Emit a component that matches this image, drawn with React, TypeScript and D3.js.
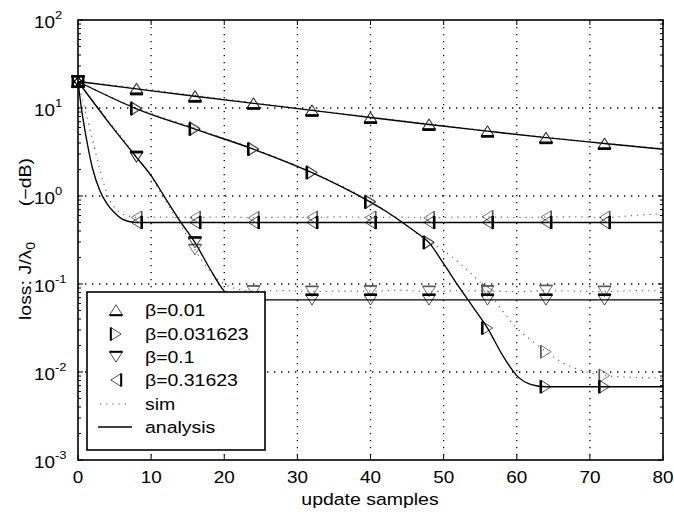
import React from "react";
import * as d3 from "d3";

const W = 674;
const H = 517;

// Axis ticks
const xTicks = [0, 10, 20, 30, 40, 50, 60, 70, 80];
const yExponents = [-3, -2, -1, 0, 1, 2];
const markerT = [0, 8, 16, 24, 32, 40, 48, 56, 64, 72];

const betaLabels = ["β=0.01", "β=0.031623", "β=0.1", "β=0.31623"];
const markerDirs = ["up", "right", "down", "left"];

// β = 0.01
const anaT1 = [0, 8, 16, 24, 32, 40, 48, 56, 64, 72, 80];
const anaV1 = [20, 16.5, 13.6, 11.3, 9.4, 7.8, 6.5, 5.45, 4.6, 3.95, 3.4];
const simT1 = [0, 8, 16, 24, 32, 40, 48, 56, 64, 72, 80];
const simV1 = [20, 16.9, 13.9, 11.5, 9.5, 7.9, 6.6, 5.5, 4.65, 4.0, 3.45];

// β = 0.031623
const anaT2 = [0, 8, 16, 24, 32, 40, 42, 44, 46, 48, 50, 52, 54, 56, 58, 60, 62, 64, 72, 80];
const anaV2 = [20, 9.8, 5.75, 3.4, 1.84, 0.85, 0.68, 0.525, 0.4, 0.295, 0.17, 0.095, 0.055, 0.0316, 0.0158, 0.0091, 0.0072, 0.0068, 0.0068, 0.0068];
const simT2 = [0, 8, 16, 24, 32, 40, 44, 48, 50, 52, 54, 56, 58, 60, 62, 64, 66, 68, 70, 72, 76, 80];
const simV2 = [20, 10, 5.9, 3.45, 1.86, 0.87, 0.525, 0.3, 0.24, 0.178, 0.126, 0.085, 0.05, 0.0316, 0.0229, 0.017, 0.0132, 0.011, 0.0098, 0.0091, 0.0087, 0.0085];

// β = 0.1
const anaT3 = [0, 4, 8, 10, 12, 14, 16, 18, 20, 21, 22, 24, 32, 40, 48, 56, 64, 72, 80];
const anaV3 = [20, 7.2, 2.75, 1.7, 0.93, 0.51, 0.295, 0.151, 0.083, 0.071, 0.066, 0.066, 0.066, 0.066, 0.066, 0.066, 0.066, 0.066, 0.066];
const simT3 = [0, 4, 8, 10, 12, 14, 16, 18, 20, 22, 24, 28, 32, 36, 40, 44, 48, 52, 56, 60, 64, 68, 72, 76, 80];
const simV3 = [20, 7.4, 2.8, 1.66, 0.87, 0.47, 0.245, 0.141, 0.1, 0.087, 0.083, 0.084, 0.082, 0.083, 0.083, 0.085, 0.082, 0.084, 0.083, 0.082, 0.084, 0.083, 0.082, 0.084, 0.083];

// β = 0.31623
const anaT4 = [0, 0.5, 1, 1.5, 2, 3, 4, 5, 6, 7, 8, 16, 24, 32, 40, 48, 56, 64, 72, 80];
const anaV4 = [20, 9.5, 5.25, 3.16, 2.04, 1.15, 0.81, 0.645, 0.55, 0.513, 0.5, 0.5, 0.5, 0.5, 0.5, 0.5, 0.5, 0.5, 0.5, 0.5];
const simT4 = [0, 1, 2, 3, 4, 5, 6, 7, 8, 12, 16, 20, 24, 28, 32, 36, 40, 44, 48, 52, 56, 60, 64, 68, 72, 76, 80];
const simV4 = [20, 9.3, 4.3, 2.0, 1.05, 0.74, 0.63, 0.59, 0.57, 0.575, 0.57, 0.58, 0.565, 0.575, 0.57, 0.58, 0.57, 0.575, 0.565, 0.575, 0.58, 0.57, 0.575, 0.58, 0.57, 0.6, 0.63];

const anaT = [anaT1, anaT2, anaT3, anaT4];
const anaV = [anaV1, anaV2, anaV3, anaV4];
const simT = [simT1, simT2, simT3, simT4];
const simV = [simV1, simV2, simV3, simV4];

const FONT = "'Liberation Sans', Arial, Helvetica, sans-serif";
const SX = 1.18;

const M = { left: 78, right: 663, top: 20, bottom: 460 };
const x = d3.scaleLinear().domain([0, 80]).range([M.left, M.right]);
const y = d3.scaleLog().domain([1e-3, 1e2]).range([M.bottom, M.top]);

const line = d3
  .line<[number, number]>()
  .x((d) => x(d[0]))
  .y((d) => y(d[1]))
  .curve(d3.curveMonotoneX);

function T(props: {
  x: number;
  y: number;
  anchor?: string;
  size?: number;
  rotate?: number;
  children: React.ReactNode;
}) {
  const { anchor = "start", size = 16.5, rotate, children } = props;
  const tf = `translate(${props.x},${props.y})${rotate ? ` rotate(${rotate})` : ""} scale(${SX},1)`;
  return (
    <text transform={tf} textAnchor={anchor} fontSize={size} fontFamily={FONT} fill="#000">
      {children}
    </text>
  );
}

// Triangle marker: thin outline with a heavier flat side
function Tri(props: {
  cx: number;
  cy: number;
  dir: string;
  color: string;
  flatW: number;
  thinW: number;
}) {
  const { cx, cy, dir, color, flatW, thinW } = props;
  const w = 6.5;
  const h = 5.2;
  let apex: [number, number];
  let b1: [number, number];
  let b2: [number, number];
  if (dir === "up") {
    apex = [0, -h];
    b1 = [-w, h];
    b2 = [w, h];
  } else if (dir === "down") {
    apex = [0, h];
    b1 = [-w, -h];
    b2 = [w, -h];
  } else if (dir === "right") {
    apex = [h, 0];
    b1 = [-h, -w];
    b2 = [-h, w];
  } else {
    apex = [-h, 0];
    b1 = [h, -w];
    b2 = [h, w];
  }
  const p = (q: [number, number]) => `${cx + q[0]},${cy + q[1]}`;
  return (
    <g>
      <polygon points={`${p(apex)} ${p(b1)} ${p(b2)}`} fill="none" stroke={color} strokeWidth={thinW} />
      <line
        x1={cx + b1[0]}
        y1={cy + b1[1]}
        x2={cx + b2[0]}
        y2={cy + b2[1]}
        stroke={color}
        strokeWidth={flatW}
      />
    </g>
  );
}

function valueAt(ts: number[], vs: number[], t: number) {
  const i = ts.indexOf(t);
  return vs[i];
}

export default function App() {
  const minorTicks: number[] = [];
  for (let e = -3; e < 2; e++) {
    for (let k = 2; k <= 9; k++) minorTicks.push(k * Math.pow(10, e));
  }
  const gridX = xTicks.filter((t) => t > 0 && t < 80);
  const gridY = yExponents.filter((e) => e > -3 && e < 2).map((e) => Math.pow(10, e));

  const legendRows = [310, 334, 357, 380, 404, 427];

  return (
    <svg width={W} height={H} viewBox={`0 0 ${W} ${H}`} style={{ display: "block", position: "absolute", left: 0, top: 0, background: "#fff" }}>
      <rect x={0} y={0} width={W} height={H} fill="#fff" />
      {/* grid */}
      <g stroke="#000" strokeWidth={1.3} strokeDasharray="1.3 5.7">
        {gridX.map((t) => (
          <line key={"gx" + t} x1={x(t)} x2={x(t)} y1={M.top} y2={M.bottom} />
        ))}
        {gridY.map((v) => (
          <line key={"gy" + v} x1={M.left} x2={M.right} y1={y(v)} y2={y(v)} />
        ))}
      </g>

      {/* simulation curves */}
      <g fill="none" stroke="#555" strokeWidth={1.1} strokeDasharray="1.2 5">
        {simT.map((ts, i) => (
          <path key={"sim" + i} d={line(ts.map((t, j) => [t, simV[i][j]] as [number, number])) || ""} />
        ))}
      </g>

      {/* analysis curves */}
      <g fill="none" stroke="#000" strokeWidth={1.35}>
        {anaT.map((ts, i) => (
          <path key={"ana" + i} d={line(ts.map((t, j) => [t, anaV[i][j]] as [number, number])) || ""} />
        ))}
      </g>

      {/* markers */}
      {simT.map((ts, i) =>
        markerT.map((t) => (
          <Tri key={`sm${i}-${t}`} cx={x(t)} cy={y(valueAt(ts, simV[i], t))} dir={markerDirs[i]} color="#555" flatW={1.6} thinW={0.8} />
        ))
      )}
      {anaT.map((ts, i) =>
        markerT.map((t) => (
          <Tri key={`am${i}-${t}`} cx={x(t)} cy={y(valueAt(ts, anaV[i], t))} dir={markerDirs[i]} color="#000" flatW={2.6} thinW={0.7} />
        ))
      )}

      {/* ticks */}
      <g stroke="#000" strokeWidth={1}>
        {xTicks.map((t) => (
          <g key={"xt" + t}>
            <line x1={x(t)} x2={x(t)} y1={M.bottom} y2={M.bottom - 5} />
            <line x1={x(t)} x2={x(t)} y1={M.top} y2={M.top + 5} />
          </g>
        ))}
        {yExponents.map((e) => (
          <g key={"yt" + e}>
            <line x1={M.left} x2={M.left + 5} y1={y(Math.pow(10, e))} y2={y(Math.pow(10, e))} />
            <line x1={M.right} x2={M.right - 5} y1={y(Math.pow(10, e))} y2={y(Math.pow(10, e))} />
          </g>
        ))}
        {minorTicks.map((v) => (
          <g key={"ym" + v}>
            <line x1={M.left} x2={M.left + 3} y1={y(v)} y2={y(v)} />
            <line x1={M.right} x2={M.right - 3} y1={y(v)} y2={y(v)} />
          </g>
        ))}
      </g>

      {/* axes box */}
      <rect x={M.left} y={M.top} width={M.right - M.left} height={M.bottom - M.top} fill="none" stroke="#000" strokeWidth={1.6} />

      {/* tick labels */}
      {xTicks.map((t) => (
        <T key={"xl" + t} x={x(t)} y={483} anchor="middle" size={16}>
          {String(t)}
        </T>
      ))}
      {yExponents.map((e) => (
        <T key={"yl" + e} x={34} y={y(Math.pow(10, e)) + 8} size={16}>
          10
          <tspan dy={-9} fontSize={11}>
            {e < 0 ? "-" + Math.abs(e) : String(e)}
          </tspan>
        </T>
      ))}

      {/* axis labels */}
      <T x={370} y={505} anchor="middle" size={16.5}>
        update samples
      </T>
      <T x={31} y={320} anchor="start" size={16.5} rotate={-90}>
        loss: J/λ
        <tspan dy={4} fontSize={12}>
          0
        </tspan>
      </T>
      <T x={31} y={158} anchor="end" size={16.5} rotate={-90}>
        (−dB)
      </T>

      {/* legend */}
      <rect x={87} y={292} width={178} height={158} fill="#fff" stroke="#000" strokeWidth={1.6} />
      {betaLabels.map((lab, i) => (
        <g key={"lg" + i}>
          <Tri cx={116} cy={legendRows[i]} dir={markerDirs[i]} color="#000" flatW={2} thinW={0.7} />
          <T x={145} y={legendRows[i] + 6} size={16.5}>
            {lab}
          </T>
        </g>
      ))}
      <line x1={100} x2={131} y1={legendRows[4]} y2={legendRows[4]} stroke="#555" strokeWidth={1.1} strokeDasharray="1.2 5" />
      <T x={145} y={legendRows[4] + 6} size={16.5}>
        sim
      </T>
      <line x1={98} x2={132} y1={legendRows[5]} y2={legendRows[5]} stroke="#000" strokeWidth={1.6} />
      <T x={145} y={legendRows[5] + 6} size={16.5}>
        analysis
      </T>
    </svg>
  );
}
